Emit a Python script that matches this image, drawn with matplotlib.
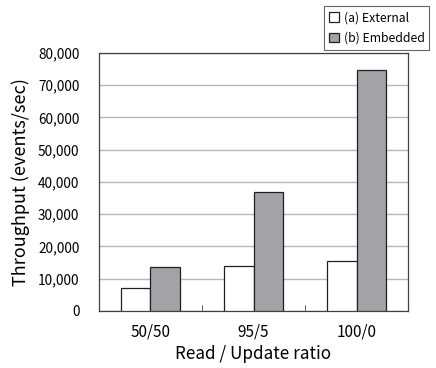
import numpy as np
import matplotlib.pyplot as plt
from matplotlib.ticker import FuncFormatter

plt.rcParams['font.family'] = ['Noto Sans CJK JP', 'DejaVu Sans']

# Datos
categorias = ['50/50', '95/5', '100/0']
external = [7200, 13900, 15500]
embedded = [13600, 36800, 74600]
series = ['(a) External', '(b) Embedded']

fig = plt.figure(figsize=(4.36, 3.68), dpi=100)
ax = fig.add_axes([0.227, 0.155, 0.709, 0.701])

x = np.arange(len(categorias))
w = 0.29
ax.bar(x - w / 2, external, w, color='white', edgecolor='#202020', linewidth=0.9,
       label=series[0], zorder=3)
ax.bar(x + w / 2, embedded, w, color='#a3a3a7', edgecolor='#202020', linewidth=0.9,
       label=series[1], zorder=3)

ax.set_xlim(-0.5, len(categorias) - 0.5)
ax.set_ylim(0, 80000)
ax.set_yticks(np.arange(0, 80001, 10000))
ax.yaxis.set_major_formatter(FuncFormatter(lambda v, p: f'{int(v):,}'))
ax.yaxis.grid(True, color='#b8b8b8', linewidth=1.0, zorder=0)
ax.tick_params(axis='y', length=0, pad=14, labelsize=9.8)

ax.set_xticks(x)
ax.set_xticklabels(categorias)
ax.set_xticks([0.5, 1.5], minor=True)
ax.tick_params(axis='x', which='major', length=0, pad=9, labelsize=11)
ax.tick_params(axis='x', which='minor', direction='in', length=4, color='#404040')

for s in ax.spines.values():
    s.set_color('#404040')
    s.set_linewidth(0.9)

ax.set_xlabel('Read / Update ratio', fontsize=12.3, labelpad=3)
ax.set_ylabel('Throughput (events/sec)', fontsize=13, labelpad=6)

leg = fig.legend(loc='upper right', bbox_to_anchor=(0.999, 0.999), fontsize=8.8,
                 frameon=True, fancybox=False, edgecolor='#404040',
                 handlelength=0.8, handleheight=0.8, handletextpad=0.4,
                 borderpad=0.4, labelspacing=0.6)
leg.get_frame().set_linewidth(0.8)

fig.savefig('out.png', dpi=100)
